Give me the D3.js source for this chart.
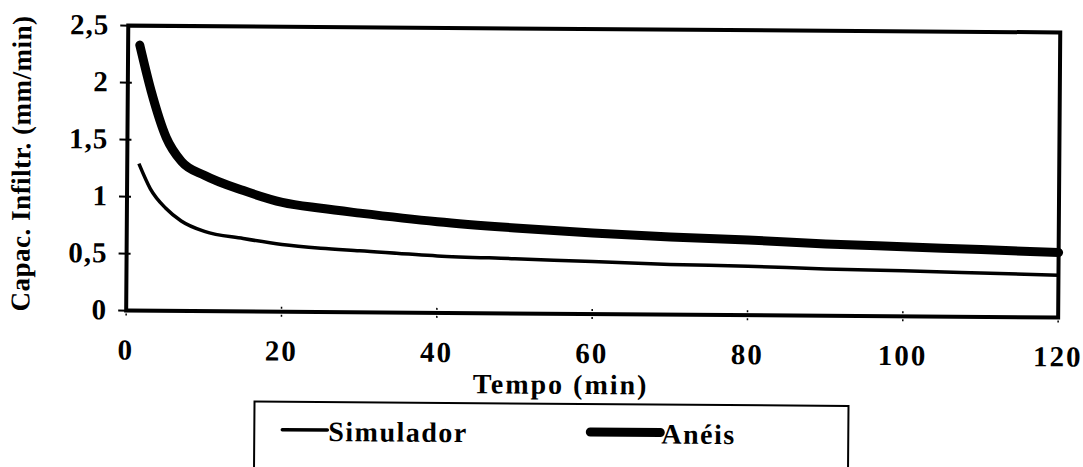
<!DOCTYPE html>
<html>
<head>
<meta charset="utf-8">
<script src="https://cdn.jsdelivr.net/npm/d3@7"></script>
<style>
  body { margin: 0; background: #fff; }
  text { font-family: "Liberation Serif", "Times New Roman", serif; font-weight: bold; fill: #000; }
</style>
</head>
<body>
<div id="chart"></div>
<script>
// Données
const tempo = [1.5, 3, 5, 7, 10, 15, 20, 25, 30, 40, 50, 60, 70, 80, 90, 100, 110, 120];
const aneis = [2.33, 1.93, 1.52, 1.31, 1.19, 1.06, 0.96, 0.91, 0.87, 0.80, 0.75, 0.71, 0.68, 0.66, 0.63, 0.61, 0.59, 0.57];
const simulador = [1.29, 1.07, 0.90, 0.79, 0.70, 0.64, 0.59, 0.56, 0.54, 0.50, 0.48, 0.46, 0.44, 0.43, 0.41, 0.40, 0.385, 0.37];
const xTicks = [0, 20, 40, 60, 80, 100, 120];
const yTicks = [0, 0.5, 1, 1.5, 2, 2.5];
const seriesNames = ["Simulador", "Anéis"];

const width = 1083;
const height = 467;
const margin = { left: 127, right: 24, top: 29, bottom: 153 };

const svg = d3.select("#chart").append("svg")
    .attr("width", width)
    .attr("height", height);

// Légère rotation (image scannée)
const root = svg.append("g")
    .attr("transform", "rotate(0.42, 590, 200)");

const x = d3.scaleLinear().domain([0, 120]).range([margin.left, width - margin.right]);
const y = d3.scaleLinear().domain([0, 2.5]).range([height - margin.bottom, margin.top]);

const fmt = d => String(d).replace(".", ",");

// Graduations Y
root.selectAll("line.ytick")
    .data(yTicks)
    .join("line")
    .attr("class", "ytick")
    .attr("x1", x(0) - 8).attr("x2", x(0) + 4)
    .attr("y1", d => y(d)).attr("y2", d => y(d))
    .attr("stroke", "#000").attr("stroke-width", 2);

root.selectAll("text.ylabel")
    .data(yTicks)
    .join("text")
    .attr("class", "ylabel")
    .attr("x", x(0) - 19)
    .attr("y", d => y(d) + 9)
    .attr("text-anchor", "end")
    .attr("font-size", 29)
    .attr("letter-spacing", 1)
    .text(fmt);

// Graduations X
root.selectAll("line.xtick")
    .data(xTicks)
    .join("line")
    .attr("class", "xtick")
    .attr("x1", d => x(d)).attr("x2", d => x(d))
    .attr("y1", y(0) - 5).attr("y2", y(0) + 6)
    .attr("stroke", "#000").attr("stroke-width", 1.5)
    .attr("stroke-dasharray", "2,2");

root.selectAll("text.xlabel")
    .data(xTicks)
    .join("text")
    .attr("class", "xlabel")
    .attr("x", d => x(d))
    .attr("y", y(0) + 49)
    .attr("text-anchor", "middle")
    .attr("font-size", 29)
    .attr("letter-spacing", 2)
    .text(d => d);

// Cadre du graphique
root.append("rect")
    .attr("x", x(0)).attr("y", y(2.5))
    .attr("width", x(120) - x(0)).attr("height", y(0) - y(2.5))
    .attr("fill", "none").attr("stroke", "#000").attr("stroke-width", 4);

// Courbes
const line = ys => d3.line()
    .x((d, i) => x(tempo[i]))
    .y(d => y(d))
    .curve(d3.curveMonotoneX)(ys);

root.append("path")
    .attr("d", line(simulador))
    .attr("fill", "none").attr("stroke", "#000").attr("stroke-width", 3.5);

root.append("path")
    .attr("d", line(aneis))
    .attr("fill", "none").attr("stroke", "#000").attr("stroke-width", 9)
    .attr("stroke-linecap", "round").attr("stroke-linejoin", "round");

// Titres des axes
root.append("text")
    .attr("x", 562)
    .attr("y", y(0) + 80)
    .attr("text-anchor", "middle")
    .attr("font-size", 28)
    .attr("letter-spacing", 2)
    .text("Tempo (min)");

root.append("text")
    .attr("transform", `translate(30, ${(y(0) + y(2.5)) / 2 - 4}) rotate(-90)`)
    .attr("text-anchor", "middle")
    .attr("font-size", 27)
    .attr("letter-spacing", 0.5)
    .text("Capac. Infiltr. (mm/min)");

// Légende
const legend = root.append("g");
legend.append("rect")
    .attr("x", 256).attr("y", 404)
    .attr("width", 594).attr("height", 80)
    .attr("fill", "none").attr("stroke", "#000").attr("stroke-width", 2);

const legendItems = [
    { name: seriesNames[0], x: 284, w: 3.5, len: 45 },
    { name: seriesNames[1], x: 592, w: 9, len: 70 }
];
legendItems.forEach(it => {
    legend.append("line")
        .attr("x1", it.x).attr("x2", it.x + it.len)
        .attr("y1", 432).attr("y2", 432)
        .attr("stroke", "#000").attr("stroke-width", it.w)
        .attr("stroke-linecap", "round");
    legend.append("text")
        .attr("x", it.x + it.len + 1)
        .attr("y", 443)
        .attr("font-size", 28)
        .attr("letter-spacing", 1.5)
        .text(it.name);
});
</script>
</body>
</html>
